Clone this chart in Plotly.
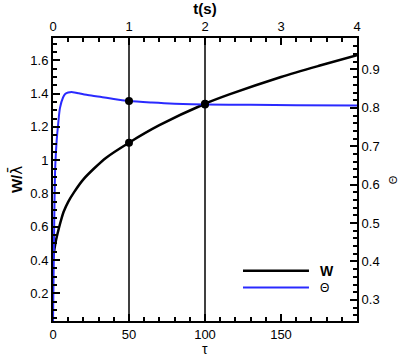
import plotly.graph_objects as go

# ---- data ----
tau_W = [0, 0.5, 1, 2, 3, 5, 7, 10, 14, 20, 27, 35, 50, 70, 100, 116, 150, 175, 200]
W = [0.40, 0.44, 0.47, 0.52, 0.56, 0.63, 0.69, 0.75, 0.81, 0.885, 0.95, 1.015,
     1.105, 1.21, 1.339, 1.395, 1.50, 1.567, 1.63]

tau_theta = [0, 0.5, 1.0, 1.5, 2.4, 3.4, 4.6, 6.6, 8, 10, 13, 17, 22, 31, 40,
             50, 65, 80, 100, 130, 160, 200]
theta = [0.24, 0.40, 0.56, 0.65, 0.714, 0.758, 0.80, 0.827, 0.836, 0.840, 0.841,
         0.838, 0.834, 0.829, 0.823, 0.818, 0.814, 0.811, 0.809, 0.808, 0.807, 0.806]

mark_tau = [50, 100]            # vertical marker lines (tau)
tau_per_second = 50             # t(s) = tau / 50

bottom_ticks = [0, 50, 100, 150]
top_ticks = [0, 1, 2, 3, 4]
left_ticks = [0.2, 0.4, 0.6, 0.8, 1.0, 1.2, 1.4, 1.6]
right_ticks = [0.3, 0.4, 0.5, 0.6, 0.7, 0.8, 0.9]

BLUE = "#2a2aff"
FONT = "Liberation Sans, Arial, Helvetica, sans-serif"

W_marks = [W[tau_W.index(t)] for t in mark_tau]
theta_marks = [theta[tau_theta.index(t)] for t in mark_tau]

fig = go.Figure()

fig.add_trace(go.Scatter(x=tau_W, y=W, mode="lines",
                         line=dict(color="black", width=2.5, shape="spline", smoothing=0.8),
                         xaxis="x", yaxis="y", showlegend=False, name="W"))
fig.add_trace(go.Scatter(x=tau_theta, y=theta, mode="lines",
                         line=dict(color=BLUE, width=2, shape="spline", smoothing=0.8),
                         xaxis="x", yaxis="y2", showlegend=False, name="Θ"))
fig.add_trace(go.Scatter(x=mark_tau, y=W_marks, mode="markers",
                         marker=dict(color="black", size=8), xaxis="x", yaxis="y", showlegend=False))
fig.add_trace(go.Scatter(x=mark_tau, y=theta_marks, mode="markers",
                         marker=dict(color="black", size=8), xaxis="x", yaxis="y2", showlegend=False))
# invisible trace to carry the top time axis
fig.add_trace(go.Scatter(x=[t / tau_per_second for t in tau_W], y=W, mode="lines",
                         line=dict(width=0), opacity=0, hoverinfo="skip",
                         xaxis="x2", yaxis="y", showlegend=False))

for t in mark_tau:
    fig.add_vline(x=t, line=dict(color="black", width=1.5), layer="below")

axis_common = dict(showgrid=False, zeroline=False, showline=True, linecolor="black", linewidth=2,
                   ticks="inside", ticklen=7, tickwidth=1.5, tickcolor="black", automargin=False,
                   tickfont=dict(family=FONT, size=13, color="black"))

fig.update_layout(
    width=407, height=362,
    margin=dict(l=53, r=50, t=38, b=41, autoexpand=False),
    plot_bgcolor="white", paper_bgcolor="white",
    font=dict(family=FONT, color="black"),
    xaxis=dict(range=[0, 200], tickvals=bottom_ticks,
               minor=dict(dtick=10, tick0=0, ticks="inside", ticklen=4, tickcolor="black"),
               **axis_common),
    xaxis2=dict(range=[0, 4], tickvals=top_ticks, overlaying="x", side="top",
                minor=dict(dtick=0.2, tick0=0, ticks="inside", ticklen=4, tickcolor="black"),
                title=dict(text="<b>t(s)</b>", font=dict(size=15), standoff=2),
                **axis_common),
    yaxis=dict(range=[0.034, 1.734], tickvals=left_ticks,
               ticktext=[f"{v:g}" for v in left_ticks],
               minor=dict(dtick=0.05, tick0=0, ticks="inside", ticklen=4, tickcolor="black"),
               title=dict(text="<b>W/</b><span style=\"font-family:'DejaVu Sans'\">λ̄</span>",
                          font=dict(size=15), standoff=4),
               **axis_common),
    yaxis2=dict(range=[0.245, 0.982], tickvals=right_ticks, overlaying="y", side="right",
                ticktext=[f"{v:g}" for v in right_ticks],
                minor=dict(dtick=0.02, tick0=0, ticks="inside", ticklen=4, tickcolor="black"),
                **axis_common),
)

# axis titles placed as annotations for exact positioning
fig.add_annotation(xref="paper", yref="paper", x=0.5, y=-0.099, text="τ", showarrow=False,
                   xanchor="center", yanchor="middle", borderpad=0,
                   font=dict(family=FONT, size=14, color="black"))
fig.add_annotation(xref="paper", yref="paper", x=1.118, y=0.5, text="Θ", showarrow=False,
                   textangle=-90, xanchor="center", yanchor="middle",
                   font=dict(family=FONT, size=11, color="black"))

# manual legend (sample lines + labels)
legend_items = [("<b>W</b>", "black", 2.5, 0.178, 14), ("Θ", BLUE, 2, 0.118, 12)]
for label, color, width, yp, fs in legend_items:
    fig.add_shape(type="line", xref="paper", yref="paper", x0=0.625, x1=0.842, y0=yp, y1=yp,
                  line=dict(color=color, width=width))
    fig.add_annotation(xref="paper", yref="paper", x=0.872, y=yp, text=label, showarrow=False,
                       xanchor="left", yanchor="middle", font=dict(family=FONT, size=fs, color="black"))

fig.write_html("out.html", config={"displayModeBar": False},
               post_script="document.body.style.margin='0';document.body.style.overflow='hidden';")
